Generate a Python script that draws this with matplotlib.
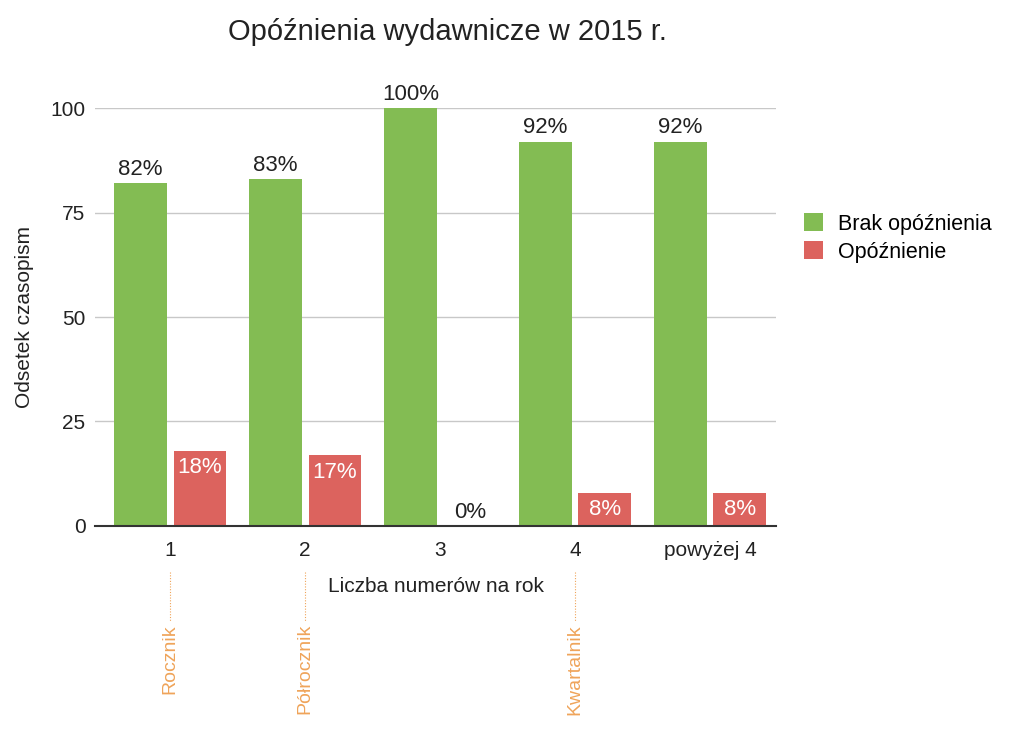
import numpy as np
import matplotlib.pyplot as plt

plt.rcParams['font.family'] = ['Liberation Sans', 'DejaVu Sans']

# dane
kategorie = ['1', '2', '3', '4', 'powyżej 4']
brak_opoznienia = [82, 83, 100, 92, 92]
opoznienie = [18, 17, 0, 8, 8]
typy = ['Rocznik', 'Półrocznik', None, 'Kwartalnik', None]

zielony = '#83BC53'
czerwony = '#DC635E'
pomarancz = '#EFA45A'

fig = plt.figure(figsize=(10.23, 7.46), dpi=100)
ax = fig.add_axes([0.093, 0.295, 0.6656, 0.56])

x = np.arange(len(kategorie))
w = 0.39
off = 0.22
ax.bar(x - off, brak_opoznienia, w, color=zielony, label='Brak opóźnienia', zorder=3)
ax.bar(x + off, opoznienie, w, color=czerwony, label='Opóźnienie', zorder=3)

for xi, v in zip(x, brak_opoznienia):
    ax.text(xi - off, v + 0.8, f'{v}%', ha='center', va='bottom', fontsize=16, color='#222222')
for xi, v in zip(x, opoznienie):
    if v > 3:
        ax.text(xi + off, v - 1.6, f'{v}%', ha='center', va='top', fontsize=16, color='white')
    else:
        ax.text(xi + off, v + 0.8, f'{v}%', ha='center', va='bottom', fontsize=16, color='#222222')

ax.set_xlim(-0.556, 4.489)
ax.set_ylim(0, 100)
ax.set_yticks([0, 25, 50, 75, 100])
ax.set_xticks(x)
ax.set_xticklabels(kategorie)
ax.tick_params(axis='both', length=0, labelsize=15, colors='#222222')
ax.tick_params(axis='x', pad=11)
ax.tick_params(axis='y', pad=7)
ax.yaxis.grid(True, color='#C8C8C8', linewidth=1, zorder=0)
for s in ['left', 'right', 'top']:
    ax.spines[s].set_visible(False)
ax.spines['bottom'].set_color('#333333')
ax.spines['bottom'].set_linewidth(1.5)
ax.spines['bottom'].set_zorder(4)

ax.set_xlabel('Liczba numerów na rok', fontsize=15, labelpad=12, color='#222222')
ax.set_ylabel('Odsetek czasopism', fontsize=15, labelpad=12, color='#222222')
fig.text(0.437, 0.957, 'Opóźnienia wydawnicze w 2015 r.', ha='center', va='center',
         fontsize=21, color='#222222')

fig.legend(loc='upper left', bbox_to_anchor=(0.767, 0.74), frameon=False,
           fontsize=15.5, handlelength=0.9, handleheight=0.9, handletextpad=0.7,
           labelspacing=0.3)

# adnotacje pod osią
for xi, t in zip(x, typy):
    if t is None:
        continue
    xd = ax.transData.transform((xi, 0))[0] / fig.bbox.width
    fig.add_artist(plt.Line2D([xd, xd], [1 - 572 / 746, 1 - 622 / 746], transform=fig.transFigure,
                              color=pomarancz, linestyle=(0, (1, 1.5)), linewidth=0.8))
    fig.text(xd, 1 - 624 / 746, t, rotation=90, ha='center', va='top', fontsize=14,
             color=pomarancz)

fig.savefig('out.png', dpi=100)
